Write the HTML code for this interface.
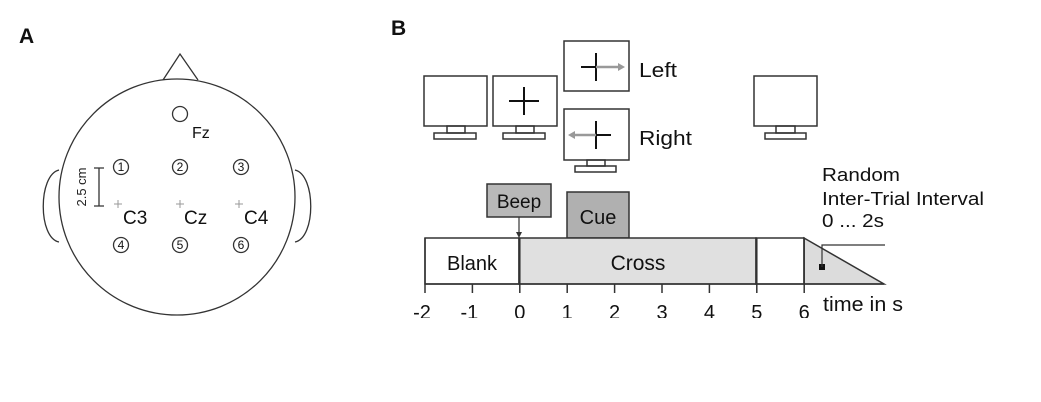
<!DOCTYPE html>
<html><head><meta charset="utf-8"><style>
body{margin:0;background:#fff;width:1041px;height:402px;overflow:hidden}
svg{display:block;font-family:"Liberation Sans",Arial,sans-serif}
</style></head><body>
<svg width="1041" height="402" viewBox="0 0 1041 402">
<defs><clipPath id="tc"><rect x="380" y="284" width="500" height="34"/></clipPath></defs>
<g stroke="#333" fill="none" stroke-width="1.3">
 <text x="19" y="43" font-size="21" font-weight="bold" fill="#111" stroke="none">A</text>
 <path d="M163,80 L180,54 L198,80"/>
 <path d="M59,170 C38,175 38,238 59,242"/>
 <path d="M295,170 C316,175 316,238 295,242"/>
 <circle cx="177" cy="197" r="118" fill="#fff"/>
 <circle cx="180" cy="114" r="7.5"/>
 <text x="192" y="138" font-size="16" fill="#111" stroke="none">Fz</text>
 <g font-size="12" fill="#111" stroke="none" text-anchor="middle">
  <g stroke="#333" fill="none">
   <circle cx="121" cy="167" r="7.5"/><circle cx="180" cy="167" r="7.5"/><circle cx="241" cy="167" r="7.5"/>
   <circle cx="121" cy="245" r="7.5"/><circle cx="180" cy="245" r="7.5"/><circle cx="241" cy="245" r="7.5"/>
  </g>
  <text x="121" y="171">1</text>
  <text x="180" y="171">2</text>
  <text x="241" y="171">3</text>
  <text x="121" y="249">4</text>
  <text x="180" y="249">5</text>
  <text x="241" y="249">6</text>
 </g>
 <g stroke="#999" stroke-width="1">
  <path d="M114,204h8M118,200v8M176,204h8M180,200v8M235,204h8M239,200v8"/>
 </g>
 <g font-size="19" fill="#111" stroke="none">
  <text x="123" y="224">C3</text>
  <text x="184" y="224">Cz</text>
  <text x="244" y="224">C4</text>
 </g>
 <path d="M94,168h10M99,168v38M94,206h10"/>
 <text transform="translate(86,187) rotate(-90)" text-anchor="middle" font-size="13" fill="#222" stroke="none">2.5 cm</text>
</g>

<g stroke="#333" fill="none" stroke-width="1.5">
 <text x="391" y="35" font-size="21" font-weight="bold" fill="#111" stroke="none">B</text>
 <g><rect x="424" y="76" width="63" height="50" fill="#fff"/><rect x="447" y="126" width="18" height="7"/><rect x="434" y="133" width="42" height="6"/></g>
 <g><rect x="493" y="76" width="64" height="50" fill="#fff"/><rect x="516" y="126" width="18" height="7"/><rect x="503" y="133" width="42" height="6"/><path d="M509,101h30M524,87v28" stroke="#111" stroke-width="2"/></g>
 <g><rect x="564" y="41" width="65" height="50" fill="#fff"/><path d="M581,67h15M596,53v28" stroke="#111" stroke-width="2"/><path d="M596,67h24" stroke="#999" stroke-width="2.5"/><path d="M618,63l7,4l-7,4z" fill="#999" stroke="none"/></g>
 <g><rect x="564" y="109" width="65" height="51" fill="#fff"/><rect x="587" y="160" width="18" height="6"/><rect x="575" y="166" width="41" height="6"/><path d="M596,135h15M596,121v28" stroke="#111" stroke-width="2"/><path d="M573,135h23" stroke="#999" stroke-width="2.5"/><path d="M575,131l-7,4l7,4z" fill="#999" stroke="none"/></g>
 <g><rect x="754" y="76" width="63" height="50" fill="#fff"/><rect x="776" y="126" width="19" height="7"/><rect x="765" y="133" width="41" height="6"/></g>
 <g font-size="20" fill="#111" stroke="none">
  <text x="639" y="77" textLength="38" lengthAdjust="spacingAndGlyphs">Left</text>
  <text x="639" y="145" textLength="53" lengthAdjust="spacingAndGlyphs">Right</text>
 </g>
 <g font-size="18" fill="#111" stroke="none">
  <text x="822" y="181" textLength="78" lengthAdjust="spacingAndGlyphs">Random</text>
  <text x="822" y="205" textLength="162" lengthAdjust="spacingAndGlyphs">Inter-Trial Interval</text>
  <text x="822" y="227" textLength="62" lengthAdjust="spacingAndGlyphs">0 ... 2s</text>
 </g>
 <rect x="487" y="184" width="64" height="33" fill="#b8b8b8"/>
 <text x="519" y="208" text-anchor="middle" font-size="19" fill="#111" stroke="none">Beep</text>
 <path d="M519,217v16" stroke-width="1.2"/><path d="M516,232l3,6l3,-6z" fill="#333" stroke="none"/>
 <rect x="567" y="192" width="62" height="46" fill="#b0b0b0"/>
 <text x="598" y="224" text-anchor="middle" font-size="20" fill="#111" stroke="none">Cue</text>
 <rect x="425" y="238" width="94" height="46" fill="#fff"/>
 <rect x="519" y="238" width="237" height="46" fill="#e0e0e0"/>
 <rect x="756" y="238" width="48" height="46" fill="#fff"/>
 <path d="M804,238 L884,284 L804,284 Z" fill="#dcdcdc"/>
 <text x="472" y="270" text-anchor="middle" font-size="20" fill="#111" stroke="none">Blank</text>
 <text x="638" y="270" text-anchor="middle" font-size="21" fill="#111" stroke="none">Cross</text>
 <rect x="819" y="264" width="6" height="6" fill="#111" stroke="none"/>
 <path d="M822,267V245H885" stroke-width="1.2"/>
 <path d="M425,284H884"/>
 <g id="ticks"></g>
 <text x="823" y="311" font-size="20" fill="#111" stroke="none" textLength="80" lengthAdjust="spacingAndGlyphs">time in s</text>
</g>
</svg>
<script>
const tickValues=[-2,-1,0,1,2,3,4,5,6];
const tickLabels=["-2","-1","0","1","2","3","4","5","6"];
const x=t=>425+(t+2)*47.4;
const g=document.getElementById('ticks');
const ns='http://www.w3.org/2000/svg';
tickValues.forEach((t,i)=>{
 const l=document.createElementNS(ns,'path');
 l.setAttribute('d',`M${x(t)},${t===0||t===5||t===6||t===-2?238:284}V293`);
 
 
 g.appendChild(l);
 const tx=document.createElementNS(ns,'text');
 tx.setAttribute('x',x(t)-(t<0?3:0));tx.setAttribute('y',319);
 tx.setAttribute('text-anchor','middle');tx.setAttribute('font-size','20');
 tx.setAttribute('fill','#111');tx.setAttribute('stroke','none');
 tx.setAttribute('clip-path','url(#tc)');
 tx.textContent=tickLabels[i];
 
 
 g.appendChild(tx);
});
</script>
</body></html>
